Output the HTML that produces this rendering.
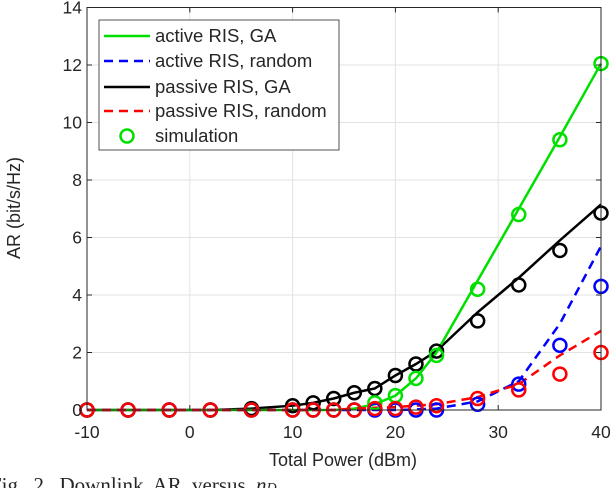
<!DOCTYPE html>
<html><head><meta charset="utf-8"><style>
body{margin:0;background:#fff;}
svg text{font-family:"Liberation Sans",sans-serif;fill:#262626;}
</style></head><body>
<svg id="c" width="612" height="488" viewBox="0 0 612 488" xmlns="http://www.w3.org/2000/svg">
<g id="grid"></g>
<g id="series"></g>
<g id="axes"></g>
<text x="343" y="466" font-size="18" text-anchor="middle">Total Power (dBm)</text>
<text transform="translate(20,208) rotate(-90)" font-size="18" text-anchor="middle">AR (bit/s/Hz)</text>
<text x="-10" y="492" font-size="21" word-spacing="5" style="font-family:'Liberation Serif',serif">Fig. 2.  Downlink AR versus <tspan font-style="italic">n</tspan><tspan font-size="14" font-style="italic">D</tspan></text>
<g>
<rect x="99" y="20" width="240" height="130" fill="#fff" stroke="#262626" stroke-width="0.8"/>
<g><line x1="104" y1="36" x2="150" y2="36" stroke="#00e000" stroke-width="2.5"/><text x="155" y="42" font-size="18.5" fill="#000">active RIS, GA</text></g>
<g><line x1="104" y1="61" x2="150" y2="61" stroke="#0000ff" stroke-width="2.5" stroke-dasharray="9,6"/><text x="155" y="67" font-size="18.5" fill="#000">active RIS, random</text></g>
<g><line x1="104" y1="87" x2="150" y2="87" stroke="#000" stroke-width="2.5"/><text x="155" y="93" font-size="18.5" fill="#000">passive RIS, GA</text></g>
<g><line x1="104" y1="111" x2="150" y2="111" stroke="#ff0000" stroke-width="2.5" stroke-dasharray="9,6"/><text x="155" y="117" font-size="18.5" fill="#000">passive RIS, random</text></g>
<g><circle cx="127" cy="136" r="6.5" fill="none" stroke="#00e000" stroke-width="2.5"/><text x="155" y="142" font-size="18.5" fill="#000">simulation</text></g>
</g>
</svg>
<script>
const xs=[-10,-6,-2,2,6,10,12,14,16,18,20,22,24,28,32,36,40];
const activeGA=[0,0,0,0,0,0,0,0,0.05,0.2,0.5,1.1,2.0,4.5,7.0,9.5,12.05];
const activeGASim=[0,0,0,0,0,0,0,0,0,0.25,0.5,1.1,1.9,4.2,6.8,9.4,12.05];
const activeRand=[0,0,0,0,0,0,0,0,0,0,0,0.02,0.05,0.3,1.0,3.0,5.7];
const activeRandSim=[0,0,0,0,0,0,0,0,0,0,0,0,0,0.2,0.9,2.25,4.3];
const passiveGA=[0,0,0,0,0.05,0.15,0.25,0.4,0.6,0.75,1.2,1.6,2.05,3.4,4.6,5.9,7.15];
const passiveGASim=[0,0,0,0,0.05,0.15,0.25,0.4,0.6,0.75,1.2,1.6,2.05,3.1,4.35,5.55,6.85];
const passiveRand=[0,0,0,0,0,0,0,0,0.05,0.08,0.1,0.15,0.2,0.45,0.9,1.9,2.75];
const passiveRandSim=[0,0,0,0,0,0,0,0,0,0.05,0.05,0.1,0.15,0.4,0.7,1.25,2.0];
const xTicks=[-10,0,10,20,30,40];
const yTicks=[0,2,4,6,8,10,12,14];
const L=87,R=601,T=7.5,B=410;
const X=v=>L+(v+10)/50*(R-L);
const Y=v=>B-v/14*(B-T);
const NS="http://www.w3.org/2000/svg";
function mk(tag,parent,attrs){const e=document.createElementNS(NS,tag);for(const k in attrs)e.setAttribute(k,attrs[k]);parent.appendChild(e);return e;}
const grid=document.getElementById('grid'),axes=document.getElementById('axes'),ser=document.getElementById('series');
xTicks.forEach(t=>{
 const g=mk('line',grid,{x1:X(t),x2:X(t),y1:T,y2:B,stroke:'#e3e3e3','stroke-width':1});
 
 
 mk('line',axes,{x1:X(t),x2:X(t),y1:B,y2:B-5,stroke:'#262626'});
 mk('line',axes,{x1:X(t),x2:X(t),y1:T,y2:T+5,stroke:'#262626'});
 const tx=mk('text',axes,{x:X(t),y:B+28,'font-size':17.5,'text-anchor':'middle'});tx.textContent=t;
 
 
});
yTicks.forEach(t=>{
 const g=mk('line',grid,{x1:L,x2:R,y1:Y(t),y2:Y(t),stroke:'#e3e3e3','stroke-width':1});
 
 
 mk('line',axes,{x1:L,x2:L+5,y1:Y(t),y2:Y(t),stroke:'#262626'});
 mk('line',axes,{x1:R,x2:R-5,y1:Y(t),y2:Y(t),stroke:'#262626'});
 const tx=mk('text',axes,{x:L-5,y:Y(t)+6,'font-size':17.5,'text-anchor':'end'});tx.textContent=t;
 
 
});
const fr=mk('rect',axes,{x:L,y:T,width:R-L,height:B-T,fill:'none',stroke:'#262626','stroke-width':1});


function line(vals,color,dash,name){
 const p=mk('polyline',ser,{points:vals.map((v,i)=>X(xs[i])+','+Y(v)).join(' '),fill:'none',stroke:color,'stroke-width':2.5,'stroke-dasharray':dash||'none'});
 
 
}
function marks(vals,color,name){
 vals.forEach((v,i)=>{const c=mk('circle',ser,{cx:X(xs[i]),cy:Y(v),r:6.5,fill:'none',stroke:color,'stroke-width':2.5});
 
 });
}
line(passiveGA,'#000','', 'passive-ga-line');
line(activeGA,'#00e000','', 'active-ga-line');
line(activeRand,'#0000ff','9,6','active-random-line');
line(passiveRand,'#ff0000','9,6','passive-random-line');
marks(passiveGASim,'#000','passive-ga-sim-point');
marks(activeGASim,'#00e000','active-ga-sim-point');
marks(activeRandSim,'#0000ff','active-random-sim-point');
marks(passiveRandSim,'#ff0000','passive-random-sim-point');
</script>
</body></html>
